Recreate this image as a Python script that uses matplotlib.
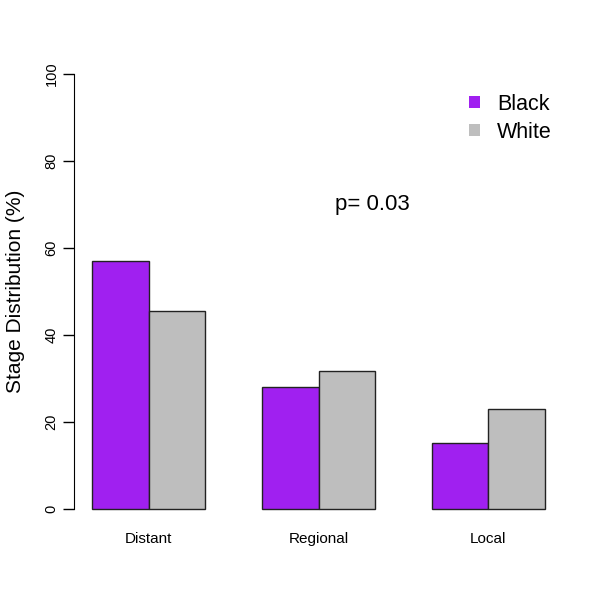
import matplotlib
matplotlib.use("Agg")
import matplotlib.pyplot as plt
import numpy as np

categories = ["Distant", "Regional", "Local"]
black = [57.0, 28.0, 15.1]
white = [45.5, 31.7, 22.9]
series_names = ["Black", "White"]
colors = ["#A020F0", "#BEBEBE"]
yticks = [0, 20, 40, 60, 80, 100]

plt.rcParams['font.family'] = ['Liberation Sans', 'DejaVu Sans']
fig = plt.figure(figsize=(6.01, 6.01), dpi=100)
ax = fig.add_axes([0.123, 0.124, 0.814, 0.782])

centers = np.array([2.0, 5.0, 8.0])
ax.bar(centers - 0.5, black, width=1.0, color=colors[0], edgecolor="#222222", linewidth=1.0, label=series_names[0])
ax.bar(centers + 0.5, white, width=1.0, color=colors[1], edgecolor="#222222", linewidth=1.0, label=series_names[1])

ax.set_xlim(0.68, 9.32)
ax.set_ylim(-4, 104)
for s in ["top", "right", "bottom"]:
    ax.spines[s].set_visible(False)
ax.spines["left"].set_bounds(0, 100)
ax.set_yticks(yticks)
ax.set_yticklabels([str(t) for t in yticks], rotation=90, va="center", fontsize=10.5)
ax.tick_params(axis="y", length=8, width=1, pad=3)
ax.set_xticks(centers)
ax.set_xticklabels(categories, fontsize=11)
ax.tick_params(axis="x", length=0, pad=4)
ax.set_ylabel("Stage Distribution (%)", fontsize=15, labelpad=14)

ax.text(5.95, 70, "p= 0.03", fontsize=16, ha="center", va="center")

leg = ax.legend(loc="upper right", bbox_to_anchor=(0.994, 0.939), frameon=False, fontsize=15.5,
                handlelength=0.5, handleheight=0.5, handletextpad=0.8, labelspacing=0.32,
                borderaxespad=0.0)
for h in leg.legend_handles:
    h.set_edgecolor("none")

fig.savefig("out.png", dpi=100)
